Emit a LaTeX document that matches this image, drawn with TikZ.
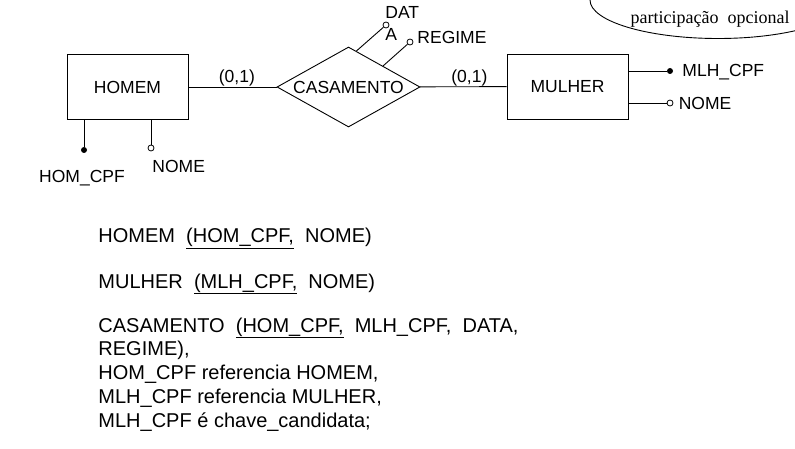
\documentclass[tikz,border=0pt]{standalone}
\usepackage{fontspec}
\setmainfont{Liberation Sans}
\newfontfamily\notefont{Liberation Serif}
\usepackage{tikz}
\usetikzlibrary{positioning,calc,shapes.geometric}

% underline a key at a given depth below the baseline
\newcommand\keyline[2]{\setbox0\hbox{#2}\rlap{\rule[-#1]{\wd0}{0.7pt}}\box0}

\begin{document}
\begin{tikzpicture}[
  x=1pt, y=-1pt,
  line width=0.9pt,
  entity/.style={
    draw,
    minimum width=121pt,
    minimum height=65pt,
    inner sep=0pt,
    font=\fontsize{17.5}{21}\selectfont
  },
  relation/.style={
    draw,
    diamond,
    aspect=2.5,
    minimum width=143pt,
    minimum height=80pt,
    inner sep=0pt,
    font=\fontsize{17.5}{21}\selectfont
  },
  keydot/.style={circle, fill, inner sep=0pt, minimum size=6pt},
  attrdot/.style={circle, draw, fill=white, line width=0.8pt, inner sep=0pt, minimum size=6pt},
  lbl/.style={inner sep=0pt, font=\fontsize{17.5}{22}\selectfont},
  reltext/.style={anchor=base west, inner sep=0pt, font=\fontsize{20}{24}\selectfont}
]
\clip (0,0) rectangle (795,449);

% note in the corner
\node[ellipse, draw, minimum width=256pt, minimum height=77pt] (note) at (718,0) {};
\node[anchor=base, inner sep=0pt, font=\notefont\fontsize{18}{21}\selectfont] (notetext) at (710,24) {participação~~opcional};

% entities and relationship
\node[entity] (homem) at (127.5,87) {HOMEM};
\node[relation] (casamento) at (348.5,87) {CASAMENTO};
\node[entity] (mulher) at (567.5,86.5) {MULHER};

\draw (homem) -- node[lbl, above=0.5pt, pos=0.55] (cardh) {(0,1)} (casamento);
\draw (casamento) -- node[lbl, above=0.5pt, pos=0.57] (cardm) {(0,1)} (mulher);

% attributes of HOMEM
\node[keydot] (hcpf) at (84,150) {};
\node[attrdot] (hnome) at (151,148) {};
\draw (homem.south -| hcpf) -- (hcpf);
\draw (homem.south -| hnome) -- (hnome);
\node[lbl, anchor=base] (hcpflbl) at (82,183) {HOM\_CPF};
\node[lbl, anchor=base west] (hnomelbl) at (152,173) {NOME};

% attributes of MULHER
\node[keydot] (mcpf) at (670,71) {};
\node[attrdot] (mnome) at (670,103) {};
\draw (mulher.east |- mcpf) -- (mcpf);
\draw (mulher.east |- mnome) -- (mnome);
\node[lbl, anchor=base west] (mcpflbl) at (682,77) {MLH\_CPF};
\node[lbl, right=5pt of mnome] (mnomelbl) {NOME};

% attributes of CASAMENTO
\coordinate (datastart) at ($(casamento.north)!0.11!(casamento.east)$);
\coordinate (regstart) at ($(casamento.north)!0.48!(casamento.east)$);
\node[attrdot] (datadot) at (386,25) {};
\node[attrdot] (regdot) at (410,42) {};
\draw (datastart) -- (datadot);
\draw (regstart) -- (regdot);
\node[lbl, align=left, anchor=north west] (datalbl) at (385,6) {DAT\\A};
\node[lbl, anchor=base west] (reglbl) at (417,44) {REGIME};

% relational schema
\node[reltext] (relhomem) at (98,243) {HOMEM~~\keyline{6pt}{(HOM\_CPF,}~~NOME)};
\node[reltext] (relmulher) at (98,288) {MULHER~~\keyline{6pt}{(MLH\_CPF,}~~NOME)};
\node[reltext] (relcasam) at (98,332) {CASAMENTO~~\keyline{6pt}{(HOM\_CPF,}~~MLH\_CPF,~~DATA,};
\node[reltext] (relregime) at (98,355.5) {REGIME),};
\node[reltext] (refhomem) at (98,379) {HOM\_CPF referencia HOMEM,};
\node[reltext] (refmulher) at (98,403) {MLH\_CPF referencia MULHER,};
\node[reltext] (candkey) at (98,427) {MLH\_CPF é chave\_candidata;};
\end{tikzpicture}
\end{document}
